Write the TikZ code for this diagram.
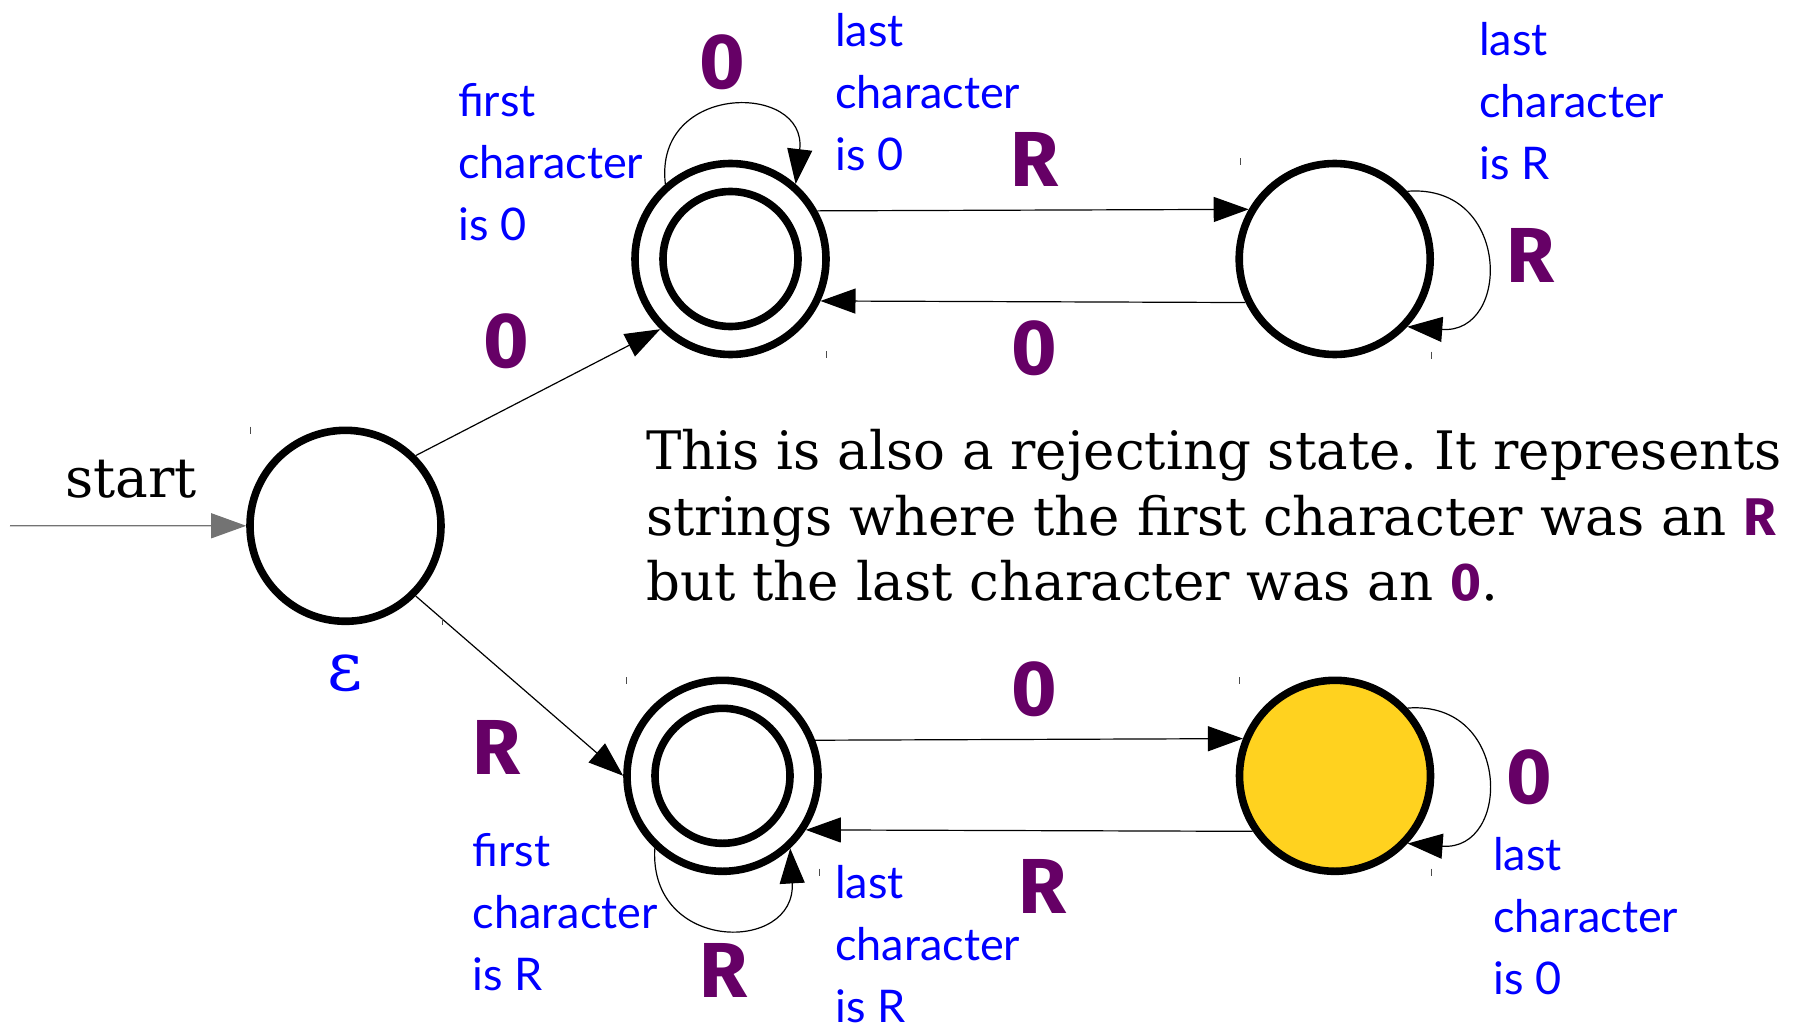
\documentclass[tikz,border=0pt]{standalone}
\usepackage{fontspec}
\setmainfont{DejaVu Serif}
\newfontfamily\purpfont{Fira Sans}
\newfontfamily\handfont{Lato}
\usetikzlibrary{arrows.meta}
\definecolor{symcol}{HTML}{660066}
\definecolor{handcol}{HTML}{0000FF}
\definecolor{goldcol}{HTML}{FFD21F}
\newcommand{\symR}{{\purpfont\bfseries\color{symcol}R}}
\newcommand{\symZ}{{\purpfont\bfseries\color{symcol}0}}
\frenchspacing
\begin{document}
\begin{tikzpicture}[x=1pt,y=-1pt,
  state/.style={circle,draw=black,line width=7.6pt,minimum size=191pt,inner sep=0pt},
  inner/.style={draw=black,line width=7.6pt},
  edge/.style={draw=black,line width=1.2pt,-{Triangle[length=35pt,width=25pt]}},
  sym/.style={text=symcol,font=\purpfont\bfseries\fontsize{78}{90}\selectfont,inner sep=0pt},
  note/.style={text=handcol,font=\handfont\fontsize{45}{62}\selectfont,align=left,anchor=base west,inner sep=0pt},
  para/.style={font=\fontsize{53}{65}\selectfont,anchor=base west,inner sep=0pt},
  tickmark/.style={draw=black!70,line width=1pt}
]
\useasboundingbox (0,0) rectangle (1812,1027);

% states
\node[state] (eps) at (345.5,525.8) {};
\node[state] (tl) at (730.5,259) {};
\node[state] (tr) at (1334.7,259) {};
\node[state] (bl) at (722.5,775.8) {};
\node[state,fill=goldcol] (br) at (1335,775.8) {};
\draw[inner] (tl) circle[radius=67.5];
\draw[inner] (bl) circle[radius=67.5];

% start arrow
\coordinate (startpt) at (10,525.7);
\draw[edge,draw=black!55] (startpt) -- (eps.west);
\node[font=\fontsize{55}{66}\selectfont,anchor=base,inner sep=0pt] (startlbl) at (130.8,497.3) {start};

% transitions
\draw[edge] (eps.45) -- (tl.225);
\draw[edge] (eps.-45) -- (bl.180);
\draw[edge] (tl.29.7) -- (tr.150.3);
\draw[edge] (tr.-154.9) -- (tl.-25.1);
\draw[edge] (bl.21.6) -- (br.158.4);
\draw[edge] (br.-146.3) -- (bl.-33.7);

% loops
\draw[edge] (tl.131) .. controls +(-12,-102) and +(12,-102) .. (tl.49);
\draw[edge] (tr.43) .. controls +(104,-8) and +(104,8) .. (tr.-43);
\draw[edge] (br.43) .. controls +(104,-8) and +(104,8) .. (br.-43);
\draw[edge] (bl.-133) .. controls +(-6,105) and +(6,105) .. (bl.-47);

% symbol labels
\node[sym] (l1) at (722,62.5) {0};
\node[sym] (l2) at (506,341) {0};
\node[sym] (l3) at (1035,159) {R};
\node[sym] (l4) at (1034,348.5) {0};
\node[sym] (l5) at (1531,255.5) {R};
\node[sym] (l6) at (497,747) {R};
\node[sym] (l7) at (1034,689) {0};
\node[sym] (l8) at (1043,886) {R};
\node[sym] (l9) at (1529,777.6) {0};
\node[sym] (l10) at (724,970) {R};

% epsilon
\node[text=handcol,font=\fontsize{68}{70}\selectfont,inner sep=0pt] (epslbl) at (345,673) {ε};

% notes (anchored at the baseline of the last line)
\node[note] (n1) at (458,240.7) {first\\character\\is 0};
\node[note] (n2) at (835,171) {last\\character\\is 0};
\node[note] (n3) at (1479,179.5) {last\\character\\is R};
\node[note] (n4) at (472.6,990.7) {first\\character\\is R};
\node[note] (n5) at (835,1022) {last\\character\\is R};
\node[note] (n6) at (1493,994) {last\\character\\is 0};

% paragraph
\node[para] (p1) at (646,469.3) {This is also a rejecting state. It represents};
\node[para] (p2) at (646,535) {strings where the first character was an \symR};
\node[para] (p3) at (646,600) {but the last character was an \symZ.};

% small tick marks
\foreach \tx/\ty in {250/426.5, 442/618, 826.7/351, 1240/158.5, 1431.8/351.5, 626.7/677, 1239.3/677, 819/868.5, 1431.7/868.5}
  \draw[tickmark] (\tx,\ty) -- ++(0,7);
\end{tikzpicture}
\end{document}
